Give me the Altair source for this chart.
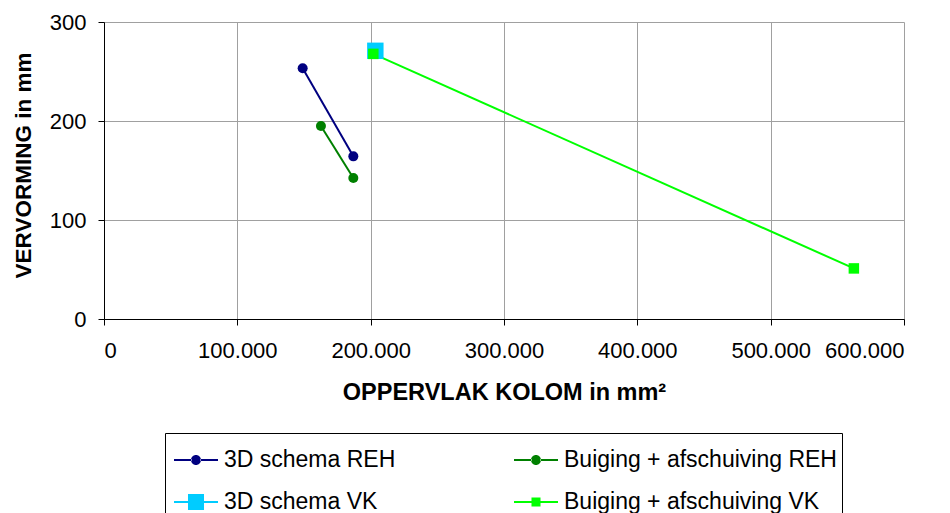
import altair as alt
import pandas as pd

# Series names, in legend order
series_names = [
    "3D schema REH",
    "Buiging + afschuiving REH",
    "3D schema VK",
    "Buiging + afschuiving VK",
]
series_colors = ["#000080", "#008000", "#00CCFF", "#00FF00"]
series_markers = ["circle", "circle", "square", "square"]
series_sizes = [100, 100, 270, 110]

# Column area (mm²) and deformation (mm) per series
area_3d_reh = [149000, 187000]
defl_3d_reh = [253.3, 164.3]
area_bend_reh = [162700, 187000]
defl_bend_reh = [194.9, 142.4]
area_3d_vk = [203500]
defl_3d_vk = [270.9]
area_bend_vk = [202000, 562400]
defl_bend_vk = [267.8, 51.1]

x_ticks = [0, 100000, 200000, 300000, 400000, 500000, 600000]
y_ticks = [0, 100, 200, 300]

rows = []
for i, (xs, ys) in enumerate([
    (area_3d_reh, defl_3d_reh),
    (area_bend_reh, defl_bend_reh),
    (area_3d_vk, defl_3d_vk),
    (area_bend_vk, defl_bend_vk),
]):
    for xv, yv in zip(xs, ys):
        rows.append({"serie": series_names[i], "marker": series_markers[i],
                     "msize": series_sizes[i], "opp": xv, "verv": yv})
df = pd.DataFrame(rows)

font = "Liberation Sans"

x_enc = alt.X(
    "opp:Q",
    scale=alt.Scale(domain=[0, 600000], nice=False),
    axis=alt.Axis(
        values=x_ticks,
        labelExpr="datum.value == 0 ? '0' : (datum.value / 1000) + '.000'",
        title="OPPERVLAK KOLOM in mm²",
        titleX=400,
        titleY=73,
        titleBaseline="middle",
        titleFontSize=23.5,
        labelPadding=15,
    ),
)
y_enc = alt.Y(
    "verv:Q",
    scale=alt.Scale(domain=[0, 300], nice=False),
    axis=alt.Axis(
        values=y_ticks,
        title="VERVORMING in mm",
        titleX=-81,
        titleY=143,
        titleBaseline="middle",
        titleFontSize=22.5,
        labelPadding=12,
    ),
)

color_scale = alt.Scale(domain=series_names, range=series_colors)


# Legend symbols: a short line with the series marker in the middle
def line_with(marker_path, gap):
    h = 0.045
    left = f"M-1,-{h}H-{gap}V{h}H-1Z"
    right = f"M{gap},-{h}H1V{h}H{gap}Z"
    return left + right + marker_path


def circle_path(r):
    return f"M-{r},0A{r},{r},0,1,0,{r},0A{r},{r},0,1,0,-{r},0Z"


def square_path(s):
    return f"M-{s},-{s}H{s}V{s}H-{s}Z"


legend_symbols = [
    line_with(circle_path(0.227), 0.2),
    line_with(circle_path(0.227), 0.2),
    line_with(square_path(0.364), 0.36),
    line_with(square_path(0.205), 0.2),
]

legend = alt.Legend(
    title=None,
    orient="none",
    direction="horizontal",
    legendX=61,
    legendY=411,
    columns=2,
    columnPadding=114,
    rowPadding=8,
    padding=5,
    symbolOffset=4,
    labelOffset=6,
    labelFont=font,
    labelFontSize=23,
    labelColor="#000000",
    labelLimit=400,
    symbolSize=1936,
    symbolStrokeWidth=0,
    symbolOpacity=1,
    fillColor="#ffffff",
    strokeColor="#000000",
    values=series_names,
)

# Invisible layer that only carries the legend
legend_layer = alt.Chart(df).mark_point(filled=True, opacity=0).encode(
    x=x_enc,
    y=y_enc,
    color=alt.Color("serie:N", scale=color_scale, legend=legend),
    shape=alt.Shape("serie:N", scale=alt.Scale(domain=series_names, range=legend_symbols),
                    legend=legend),
)

lines = alt.Chart(df).mark_line(strokeWidth=2).encode(
    x=x_enc,
    y=y_enc,
    color=alt.Color("serie:N", scale=color_scale, legend=None),
)

points = alt.Chart(df).mark_point(filled=True, opacity=1).encode(
    x=x_enc,
    y=y_enc,
    color=alt.Color("serie:N", scale=color_scale, legend=None),
    shape=alt.Shape("marker:N", scale=None),
    size=alt.Size("msize:Q", scale=None),
)

chart = (
    alt.layer(legend_layer, lines, points)
    .properties(
        width=800,
        height=297,
        padding={"left": 104, "top": 22, "right": 46, "bottom": 194},
        autosize=alt.AutoSizeParams(type="none"),
        background="#ffffff",
    )
    .configure_view(stroke=None)
    .configure_axis(
        labelFont=font,
        labelFontSize=22,
        labelColor="#000000",
        titleFont=font,
        titleFontWeight="bold",
        titleColor="#000000",
        domainColor="#000000",
        domainWidth=1,
        tickColor="#000000",
        tickSize=6,
        gridColor="#a0a0a0",
        gridWidth=1,
        grid=True,
    )
)

chart.save("out.html", embed_options={"renderer": "svg", "actions": False})
